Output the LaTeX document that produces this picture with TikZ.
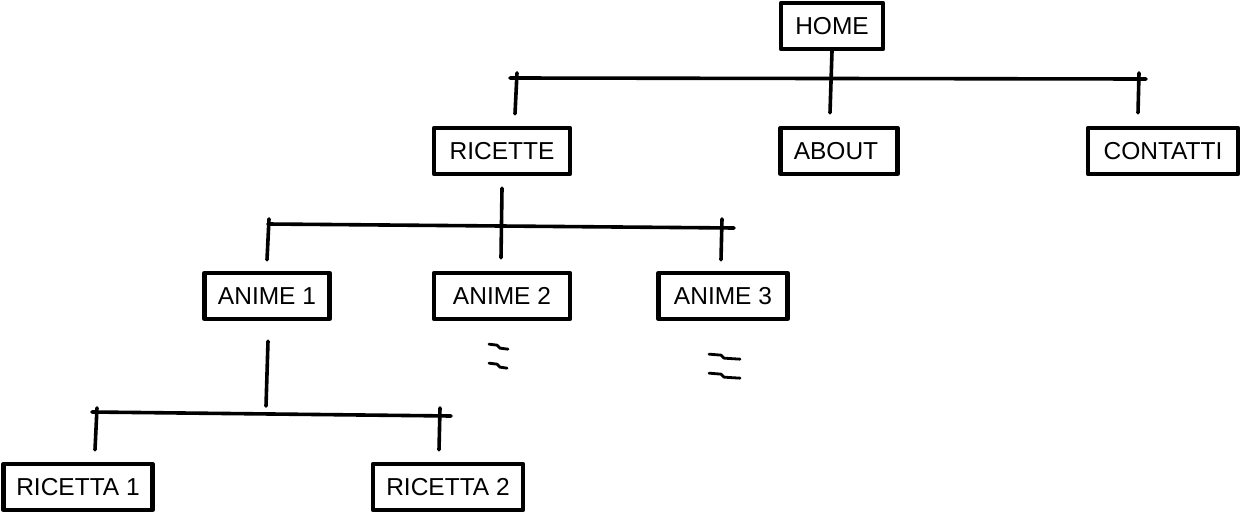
\documentclass[tikz,border=0pt]{standalone}
\usepackage{fontspec}
\setmainfont{Liberation Sans}
\usetikzlibrary{calc}
\tikzset{
  pagebox/.style={draw=black, line width=4.3pt, line join=round, minimum height=46pt,
    inner xsep=0pt, inner ysep=0pt, font=\fontsize{24.5}{28}\selectfont, text=black},
  wire/.style={draw=black, line width=3.6pt, line cap=round},
  squig/.style={draw=black, line width=2.8pt, line cap=round, line join=round}
}
\begin{document}
\begin{tikzpicture}[x=1pt,y=-1pt]
\useasboundingbox (0,0) rectangle (1244,514);
% nodes
\node[pagebox, minimum width=102pt] (home) at (832,26) {HOME};
\node[pagebox, minimum width=136pt] (ricette) at (502,151) {RICETTE};
\node[pagebox, minimum width=117pt] (about) at (839,151) {\hspace*{-6pt}ABOUT};
\node[pagebox, minimum width=150pt] (contatti) at (1163,151) {CONTATTI};
\node[pagebox, minimum width=125pt] (anime1) at (267,296) {ANIME 1};
\node[pagebox, minimum width=136pt] (anime2) at (502,296) {ANIME 2};
\node[pagebox, minimum width=129pt] (anime3) at (723,296) {ANIME 3};
\node[pagebox, minimum width=149pt] (ricetta1) at (78,487) {RICETTA 1};
\node[pagebox, minimum width=150pt] (ricetta2) at (448,487) {RICETTA 2};
% level 1
\coordinate (l1a) at (510,78);
\coordinate (l1b) at (1146,79);
\draw[wire] (l1a) -- (l1b);
\draw[wire] (home.south) -- ($(about.north)+(-9,-13)$);
\draw[wire] ($(ricette.north)+(15,-53)$) -- ($(ricette.north)+(13,-12)$);
\draw[wire] ($(contatti.north)+(-24,-53)$) -- ($(contatti.north)+(-25,-13)$);
% level 2
\coordinate (l2a) at (268,224);
\coordinate (l2b) at (734,228);
\draw[wire] (l2a) -- (l2b);
\draw[wire] ($(ricette.south)+(0,12)$) -- ($(anime2.north)+(-1,-13)$);
\draw[wire] ($(anime1.north)+(2,-52)$) -- ($(anime1.north)+(0,-11)$);
\draw[wire] ($(anime3.north)+(-1,-52)$) -- ($(anime3.north)+(-2,-11)$);
% level 3
\coordinate (l3a) at (92,412);
\coordinate (l3b) at (451,416);
\draw[wire] (l3a) -- (l3b);
\draw[wire] ($(anime1.south)+(1,20)$) -- ($(anime1.south)+(-1,85)$);
\draw[wire] ($(ricetta1.north)+(19,-54)$) -- ($(ricetta1.north)+(17,-12)$);
\draw[wire] ($(ricetta2.north)+(-8,-54)$) -- ($(ricetta2.north)+(-9,-12)$);
% continuation marks
\draw[squig] ($(anime2.south)+(-13,23)$) -- ++(8,1) -- ++(3,3) -- ++(8,1);
\draw[squig] ($(anime2.south)+(-13,42)$) -- ++(8,1) -- ++(3,3) -- ++(7,1);
\draw[squig] ($(anime3.south)+(-14,33)$) -- ++(12,1) -- ++(3,3) -- ++(16,1);
\draw[squig] ($(anime3.south)+(-14,52)$) -- ++(12,1) -- ++(3,3) -- ++(16,1);
\end{tikzpicture}
\end{document}
